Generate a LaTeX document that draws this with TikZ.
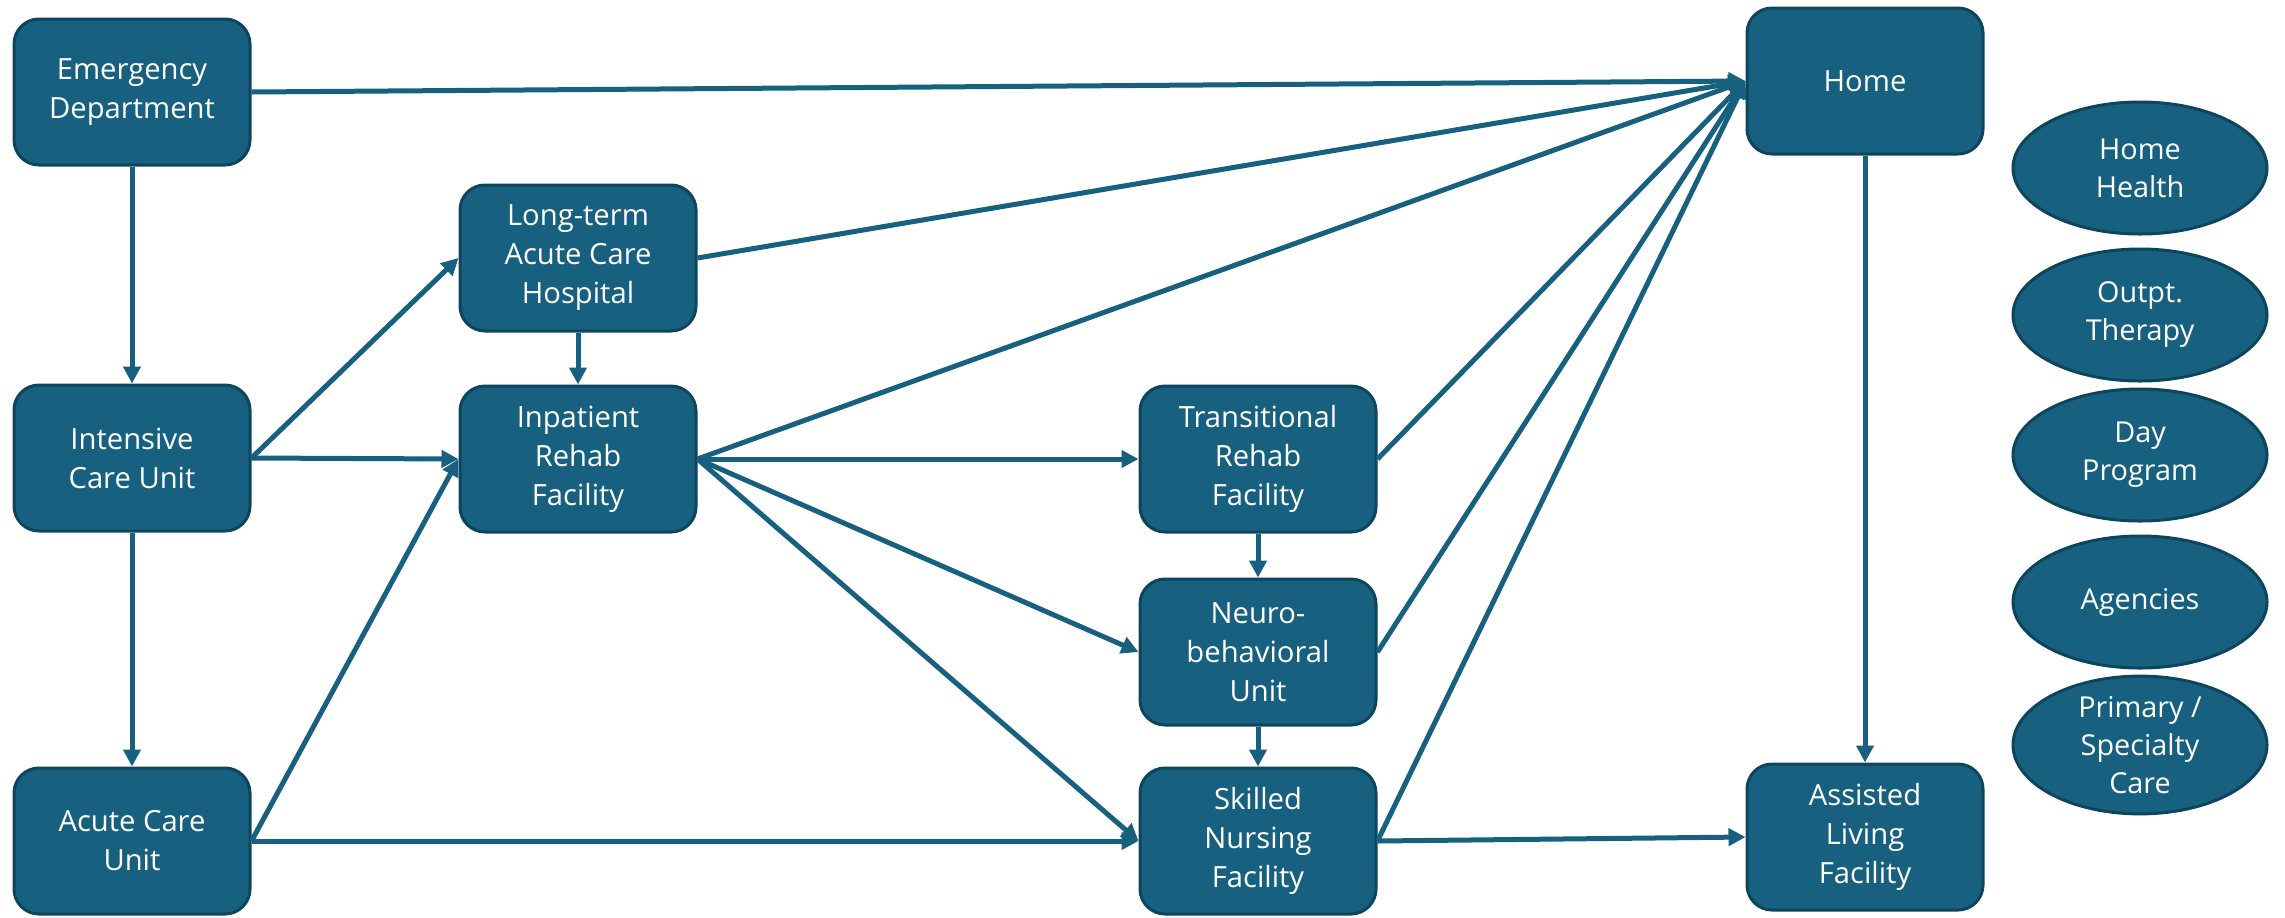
\documentclass[tikz,border=0pt]{standalone}
\usepackage{fontspec}
\setmainfont{Open Sans}
\usetikzlibrary{arrows.meta,shapes.geometric}
\definecolor{boxfill}{RGB}{23,96,127}
\definecolor{boxedge}{RGB}{14,69,94}
\begin{document}
\begin{tikzpicture}[x=0.5pt,y=-0.5pt,
  stage/.style={rectangle, rounded corners=12.5pt, fill=boxfill, draw=boxedge,
    line width=1.5pt, minimum width=118pt, minimum height=73pt,
    text=white, align=center, inner sep=1pt,
    font=\fontsize{14.6}{19.5}\selectfont},
  service/.style={ellipse, fill=boxfill, draw=boxedge, line width=1.5pt,
    minimum width=127pt, minimum height=66pt, inner sep=0pt,
    text=white, align=center, font=\fontsize{14.4}{19}\selectfont},
  flow/.style={draw=boxfill, line width=2.5pt,
    -{Triangle[length=8.5pt,width=8.5pt]}}]
\useasboundingbox (0,0) rectangle (2285,917);

% care settings
\node[stage] (ed)    at (132,92)   {Emergency\\Department};
\node[stage] (icu)   at (132,458)  {Intensive\\Care Unit};
\node[stage] (acu)   at (132,841)  {Acute Care\\Unit};
\node[stage] (ltach) at (578,258)  {Long-term\\Acute Care\\Hospital};
\node[stage] (irf)   at (578,459)  {Inpatient\\Rehab\\Facility};
\node[stage] (trf)   at (1258,459) {Transitional\\Rehab\\Facility};
\node[stage] (nbu)   at (1258,652) {Neuro-\\behavioral\\Unit};
\node[stage] (snf)   at (1258,841) {Skilled\\Nursing\\Facility};
\node[stage] (home)  at (1865,81)  {Home};
\node[stage] (alf)   at (1865,837) {Assisted\\Living\\Facility};

% community services
\node[service] (hh)  at (2140,168) {Home\\Health};
\node[service] (opt) at (2140,315) {Outpt.\\Therapy};
\node[service] (day) at (2140,455) {Day\\Program};
\node[service] (ag)  at (2140,602) {Agencies};
\node[service] (pc)  at (2140,745) {Primary /\\Specialty\\Care};

% transitions
\draw[flow] (ed.east) -- (home.west);
\draw[flow] (ed.south) -- (icu.north);
\draw[flow] (icu.east) -- (ltach.west);
\draw[flow] (icu.east) -- (irf.west);
\draw[flow] (icu.south) -- (acu.north);
\draw[flow] (ltach.east) -- (home.west);
\draw[flow] (ltach.south) -- (irf.north);
\draw[flow] (acu.east) -- (irf.west);
\draw[flow] (acu.east) -- (snf.west);
\draw[flow] (irf.east) -- (home.west);
\draw[flow] (irf.east) -- (trf.west);
\draw[flow] (irf.east) -- (nbu.west);
\draw[flow] (irf.east) -- (snf.west);
\draw[flow] (trf.east) -- (home.west);
\draw[flow] (trf.south) -- (nbu.north);
\draw[flow] (nbu.east) -- (home.west);
\draw[flow] (nbu.south) -- (snf.north);
\draw[flow] (snf.east) -- (home.west);
\draw[flow] (snf.east) -- (alf.west);
\draw[flow] (home.south) -- (alf.north);
\end{tikzpicture}
\end{document}
